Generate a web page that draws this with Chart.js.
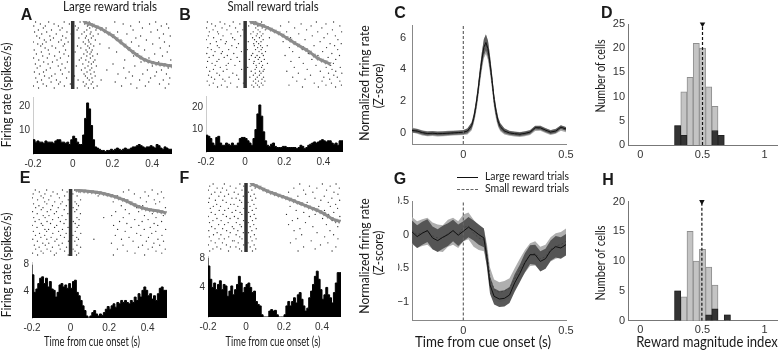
<!DOCTYPE html>
<html lang="en">
<head>
<meta charset="UTF-8">
<title>Reward magnitude coding</title>
<script src="https://cdn.jsdelivr.net/npm/chart.js"></script>
<style>
  body { margin: 0; background: #fff; }
  #fig { position: relative; width: 781px; height: 352px; overflow: hidden; background: #fff; }
  #fig canvas { position: absolute; left: 0; top: 0; }
  .lbl { position: absolute; white-space: nowrap; line-height: 1; font-family: Lato, "Open Sans", sans-serif; color: #1a1a1a; }
  .letter { font-family: "Liberation Sans", Arial, sans-serif; font-weight: bold; }
  .leg { position: absolute; width: 21px; height: 0; }
</style>
</head>
<body>
<div id="fig"></div>
<script>
// ---------- data ----------

// PSTH bins (10 ms, from -0.2 to 0.5 s), spikes/s
var aHist = [5.5,6,5,5.5,5,5,4.5,5.5,5,5, 5,4.5,5.5,6,6,5,5,4.5,5,4,
             6,7.5,6.5,5,4,4,8,15,21.5,19, 12,6,3,2.5,2,1.5,1.5,1,1.5,1.5,
             2,1.5,2,2.5,2,1.5,2,2.5,2,2, 2.5,3,3,3.5,4,3.5,3,2.5,3,3,
             3.5,3,2.5,4,3.5,2.5,2,3,2.5,2];
var bHist = [7,7.5,7,6,4,3,6.5,7,4,3, 3,4,3.5,3,4,3,3,4,6,6.5,
             6.5,6,5,4,3,6,10,17,21,16, 9,5,3,2.5,3.5,4,2.5,2,2,2,
             2.5,2.5,2,2,2,2,2,1.5,2,3, 2.5,1.5,2,3,3.5,4,4.5,4,4.5,5,
             5.5,5,4.5,5,5,4,3.5,4,3,5];
var eHist = [7.9,6.4,3.8,4.3,5.1,5.9,6.1,5.1,5.9,4.6, 5.4,4.3,4.1,3.1,3.8,4.9,5.1,4.6,4.9,4.4,
             5.1,4.4,5.4,5.6,3.8,3.3,2.6,1.8,1.1,0.3, 0,0.3,0.8,1.1,0.6,0.3,0.6,0.4,0.8,1.3,
             1.7,1.3,1.8,2.1,1.6,2.3,2.1,2.6,2.3,2.6, 2.3,2.1,2.6,2.3,3.1,2.6,3.6,3.1,4.1,4.6,
             4.1,3.3,3.6,2.8,3.3,2.6,3.6,4.4,4.6,4.1];
var fHist = [8,6.9,5.1,4,4.6,3.7,4.4,4.9,3.7,4.4, 4.2,2.8,3.5,4.2,3,3.7,4.4,5.5,4.6,3.3,
             4,4.4,4.6,4,3.3,3.5,2.1,1.7,1.5,0.3, 0,0,0,0.8,1,0.8,0.9,0.3,0,0,
             0,0.3,1.5,2.1,1.5,2.1,2.6,1.9,3,3.3, 2.4,1.5,0.8,1.2,2.6,3.5,4.4,5.5,6.2,5.1,
             3.7,2.4,3,4,3,2.6,1.9,3.3,4.6,6];

// raster spike times, one array per trial (top trial first)
var aRows = [
  [-0.187,-0.121,-0.043,0.037,0.083,0.212,0.336,0.418],[-0.163,-0.094,-0.017,0.061,0.097,0.254,0.387,0.473],
  [-0.196,-0.138,-0.072,0.013,0.074,0.109,0.292,0.446],[-0.148,-0.053,0.028,0.086,0.168,0.351,0.483],
  [-0.173,-0.107,-0.064,0.022,0.071,0.117,0.304,0.427],[-0.192,-0.131,-0.029,0.058,0.092,0.226,0.394],
  [-0.156,-0.083,-0.008,0.046,0.088,0.128,0.273,0.457],[-0.181,-0.115,-0.051,0.069,0.103,0.342,0.491],
  [-0.167,-0.097,-0.034,0.031,0.064,0.094,0.318,0.436],[-0.143,-0.112,-0.058,0.079,0.114,0.243,0.371],
  [-0.199,-0.134,-0.071,-0.023,0.053,0.082,0.296,0.462],[-0.176,-0.152,-0.041,0.063,0.091,0.137,0.403],
  [-0.161,-0.104,-0.048,0.024,0.076,0.106,0.333,0.487],[-0.139,-0.086,0.041,0.084,0.183,0.441],
  [-0.194,-0.123,-0.036,0.067,0.098,0.362],[-0.158,-0.067,0.012,0.073,0.093,0.221,0.476],
  [-0.183,-0.118,-0.044,0.056,0.087,0.124,0.413],[-0.151,-0.091,-0.021,0.071,0.101,0.307,0.452],
  [-0.197,-0.128,-0.062,0.043,0.089,0.384],[-0.171,-0.079,0.033,0.066,0.112,0.262,0.494],
  [-0.146,-0.102,-0.027,0.081,0.104,0.344,0.433],[-0.188,-0.124,-0.054,0.051,0.094,0.203,0.464],
  [-0.164,-0.073,0.018,0.077,0.119,0.313,0.401],[-0.179,-0.113,-0.038,0.062,0.096,0.257,0.481],
  [-0.133,-0.061,0.044,0.087,0.172,0.376,0.447],[-0.193,-0.147,-0.019,0.072,0.108,0.284,0.422],
  [-0.168,-0.089,-0.052,0.057,0.091,0.228,0.353,0.472],[-0.142,-0.106,0.009,0.064,0.113,0.301,0.414],
  [-0.186,-0.119,-0.031,0.074,0.097,0.267,0.392,0.489],[-0.157,-0.082,0.027,0.083,0.143,0.337,0.456],
  [-0.178,-0.109,-0.063,0.053,0.101,0.214,0.383],[-0.149,-0.071,-0.012,0.068,0.093,0.293,0.437,0.484],
  [-0.198,-0.132,-0.042,0.061,0.123,0.246,0.366],[-0.172,-0.093,0.023,0.079,0.105,0.323,0.466]
];
var bRows = [
  [-0.193,-0.128,-0.061,0.052,0.084,0.223,0.364,0.452],[-0.171,-0.104,-0.027,0.043,0.071,0.286,0.413],
  [-0.152,-0.079,0.018,0.063,0.094,0.181,0.337,0.484],[-0.197,-0.118,-0.049,0.054,0.087,0.253,0.392],
  [-0.164,-0.093,-0.012,0.066,0.103,0.314,0.446],[-0.183,-0.141,-0.038,0.041,0.076,0.212,0.371,0.493],
  [-0.136,-0.072,0.029,0.062,0.091,0.274,0.421],[-0.188,-0.113,-0.023,0.057,0.083,0.343,0.461],
  [-0.161,-0.064,0.038,0.073,0.124,0.232,0.403],[-0.199,-0.124,-0.053,0.048,0.092,0.306,0.474],
  [-0.147,-0.096,0.016,0.058,0.081,0.194,0.383],[-0.178,-0.101,-0.034,0.044,0.069,0.263,0.434,0.491],
  [-0.142,-0.068,0.047,0.079,0.113,0.352,0.457],[-0.191,-0.133,-0.044,0.064,0.088,0.226,0.416],
  [-0.173,-0.084,0.011,0.053,0.082,0.294,0.473],[-0.154,-0.116,-0.019,0.071,0.104,0.243,0.396],
  [-0.196,-0.122,-0.058,0.039,0.086,0.323,0.443],[-0.163,-0.091,0.032,0.061,0.093,0.204,0.372,0.482],
  [-0.184,-0.107,-0.041,0.052,0.074,0.276,0.424],[-0.134,-0.073,0.021,0.067,0.098,0.341,0.463],
  [-0.192,-0.144,-0.028,0.046,0.083,0.234,0.407],[-0.169,-0.086,0.043,0.072,0.114,0.297,0.451],
  [-0.153,-0.097,-0.052,0.056,0.089,0.362,0.437],[-0.198,-0.127,0.013,0.058,0.084,0.251,0.414,0.486],
  [-0.162,-0.093,-0.018,0.051,0.097,0.317,0.444],[-0.181,-0.112,0.031,0.074,0.092,0.213,0.384,0.463],
  [-0.144,-0.063,0.052,0.081,0.272,0.426,0.494],[-0.187,-0.131,-0.043,0.042,0.073,0.334,0.453],
  [-0.172,-0.082,0.024,0.062,0.094,0.243,0.402,0.471],[-0.156,-0.114,-0.033,0.053,0.086,0.306,0.432],
  [-0.194,-0.103,0.042,0.068,0.101,0.264,0.393,0.484],[-0.163,-0.074,-0.009,0.054,0.083,0.353,0.441],
  [-0.183,-0.121,0.034,0.063,0.091,0.224,0.413,0.492],[-0.141,-0.092,-0.041,0.044,0.072,0.293,0.374,0.462]
];
var eRows = [
  [-0.183,-0.124,-0.042,0.021,0.302,0.423],[-0.162,-0.091,-0.018,0.043,0.274,0.386,0.471],
  [-0.194,-0.133,-0.069,0.012,0.331,0.452],[-0.153,-0.102,-0.031,0.034,0.143,0.244,0.404],
  [-0.198,-0.141,-0.058,0.004,0.362,0.483],[-0.171,-0.113,-0.012,0.052,0.293,0.434],
  [-0.134,-0.082,-0.043,0.023,0.221,0.393,0.462],[-0.192,-0.123,-0.051,0.031,0.313,0.441],
  [-0.164,-0.094,-0.022,0.041,0.263,0.374],[-0.181,-0.143,-0.064,0.013,0.342,0.492],
  [-0.152,-0.103,-0.033,0.032,0.284,0.412],[-0.197,-0.121,-0.073,0.022,0.234,0.353,0.463],
  [-0.173,-0.084,-0.014,0.051,0.304,0.424],[-0.142,-0.112,-0.044,0.002,0.213,0.383,0.481],
  [-0.191,-0.132,-0.063,0.033,0.172,0.273,0.443],[-0.163,-0.093,-0.024,0.044,0.333,0.402],
  [-0.184,-0.122,-0.053,0.014,0.254,0.371,0.472],[-0.152,-0.104,-0.034,0.024,0.292,0.433],
  [-0.199,-0.144,-0.072,0.043,0.223,0.354,0.452],[-0.174,-0.083,-0.013,0.034,0.314,0.413],
  [-0.133,-0.114,-0.042,0.003,0.244,0.382,0.493],[-0.193,-0.124,-0.062,0.024,0.283,0.442],
  [-0.161,-0.092,-0.023,0.053,0.343,0.421],[-0.182,-0.134,-0.052,0.012,0.232,0.364,0.474],
  [-0.154,-0.101,-0.032,0.032,0.303,0.404],[-0.196,-0.123,-0.071,0.041,0.121,0.264,0.453],
  [-0.172,-0.081,-0.011,0.022,0.324,0.393,0.482],[-0.144,-0.113,-0.043,0.004,0.212,0.432],
  [-0.188,-0.131,-0.061,0.033,0.272,0.373,0.462],[-0.163,-0.094,-0.021,0.052,0.352,0.424],
  [-0.181,-0.122,-0.054,0.013,0.243,0.402,0.491],[-0.153,-0.103,-0.031,0.023,0.294,0.443],
  [-0.197,-0.142,-0.074,0.042,0.334,0.473],[-0.171,-0.084,-0.012,0.031,0.222,0.384]
];
var fRows = [
  [-0.173,-0.114,-0.032,0.041,0.283,0.402,0.474],[-0.191,-0.083,-0.012,0.022,0.334,0.443],
  [-0.152,-0.124,-0.053,0.048,0.252,0.373,0.491],[-0.198,-0.102,-0.021,0.031,0.303,0.424],
  [-0.164,-0.133,-0.062,0.013,0.224,0.352,0.463],[-0.182,-0.092,-0.041,0.043,0.314,0.484],
  [-0.143,-0.113,-0.014,0.024,0.273,0.412],[-0.193,-0.074,-0.052,0.051,0.363,0.452],
  [-0.161,-0.122,-0.033,0.032,0.243,0.394,0.493],[-0.197,-0.104,-0.023,0.011,0.322,0.433],
  [-0.154,-0.081,-0.063,0.042,0.284,0.472],[-0.172,-0.134,-0.043,0.021,0.232,0.383,0.444],
  [-0.188,-0.093,-0.011,0.053,0.343,0.482],[-0.141,-0.112,-0.054,0.033,0.264,0.413],
  [-0.183,-0.073,-0.031,0.014,0.304,0.462],[-0.162,-0.121,-0.022,0.043,0.213,0.364,0.433],
  [-0.199,-0.103,-0.061,0.023,0.333,0.494],[-0.153,-0.084,-0.042,0.052,0.272,0.403],
  [-0.174,-0.131,-0.013,0.034,0.244,0.454],[-0.192,-0.094,-0.051,0.012,0.313,0.472],
  [-0.144,-0.113,-0.032,0.041,0.224,0.423],[-0.181,-0.072,-0.024,0.022,0.352,0.483],
  [-0.163,-0.123,-0.064,0.054,0.284],[-0.196,-0.102,-0.043,0.031,0.253,0.442],
  [-0.152,-0.083,-0.014,0.013,0.374],[-0.171,-0.132,-0.052,0.044,0.293,0.461],
  [-0.193,-0.091,-0.033,0.024,0.414],[-0.142,-0.114,-0.021,0.053,0.263,0.484],
  [-0.184,-0.071,-0.062,0.032,0.343],[-0.162,-0.124,-0.041,0.011,0.234,0.431],
  [-0.198,-0.103,-0.012,0.043,0.392],[-0.153,-0.082,-0.053,0.022,0.303,0.473],
  [-0.174,-0.133,-0.034,0.051,0.364],[-0.191,-0.092,-0.023,0.034,0.274,0.453]
];

// reward-time markers [time, trial]
var aMarks = [[0.06,0],[0.08,0.8],[0.1,1.6],[0.12,2.4],[0.14,3.2],[0.16,4.4],[0.18,5.6],[0.2,6.8],
  [0.22,8.4],[0.24,10],[0.26,11.6],[0.28,13.2],[0.3,14.8],[0.32,16.2],[0.34,17.6],[0.36,18.8],
  [0.38,19.6],[0.4,20.2],[0.42,20.7],[0.44,21.1],[0.46,21.4],[0.48,21.7],[0.5,22]];
var bMarks = [[0.03,0],[0.05,0.5],[0.07,1.2],[0.09,1.9],[0.11,2.7],[0.13,3.6],[0.15,4.6],[0.17,5.6],
  [0.19,6.7],[0.21,8],[0.23,9.2],[0.25,10.5],[0.27,11.7],[0.29,12.9],[0.31,14],[0.33,15.3],
  [0.35,16.8],[0.37,18.4],[0.39,19.4],[0.41,20.3],[0.43,21.1]];
var eMarks = [[0.03,0],[0.05,0.3],[0.07,0.5],[0.09,0.7],[0.11,0.9],[0.13,1.1],[0.15,1.4],[0.17,1.8],
  [0.19,2.3],[0.21,2.8],[0.23,3.4],[0.25,4.1],[0.27,4.8],[0.29,5.6],[0.31,6.5],[0.33,7.5],
  [0.35,8.3],[0.37,9.1],[0.39,9.6],[0.41,10],[0.43,10.3],[0.45,10.6],[0.47,11],[0.49,11.5]];
var fMarks = [[0.03,0],[0.05,0.8],[0.07,1.6],[0.09,2.5],[0.11,3.4],[0.13,4.1],[0.15,4.8],[0.17,5.5],
  [0.19,6.1],[0.21,6.8],[0.23,7.5],[0.25,8.2],[0.27,9],[0.29,9.7],[0.31,10.5],[0.33,11.3],
  [0.35,12],[0.37,12.8],[0.39,13.6],[0.41,14.6],[0.43,15.8],[0.45,17],[0.47,17.8],[0.49,18.3]];

// population z-scores (C: excited cells, G: inhibited cells)
var cTime  = [-0.25,-0.225,-0.2,-0.175,-0.15,-0.125,-0.1,-0.075,-0.05,-0.025,0,0.02,0.04,0.05,0.06,0.07,0.08,0.09,0.1,0.11,
              0.12,0.13,0.14,0.15,0.16,0.17,0.18,0.2,0.225,0.25,0.275,0.3,0.325,0.35,0.375,0.4,0.425,0.45,0.475,0.5];
var cLarge = [0.15,0.12,0.02,-0.04,-0.02,-0.05,-0.04,-0.02,0,0.02,0.04,0.12,0.45,0.9,1.6,2.5,3.6,4.6,5.4,5.7,
              5.3,4.4,3.3,2.1,1.3,0.7,0.4,0.12,0,-0.05,-0.08,-0.03,0.05,0.33,0.32,0.18,0.05,0.12,0.36,0.25];
var cSmall = [0.18,0.1,0,-0.05,-0.04,-0.06,-0.05,-0.03,-0.01,0.01,0.03,0.1,0.4,0.85,1.5,2.4,3.5,4.5,5.3,5.6,
              5.2,4.3,3.2,2,1.2,0.65,0.35,0.1,-0.02,-0.07,-0.1,-0.05,0.03,0.28,0.3,0.15,0.02,0.1,0.3,0.2];
var cErrLarge = [0.12,0.12,0.12,0.12,0.12,0.12,0.12,0.12,0.12,0.12,0.12,0.15,0.2,0.25,0.3,0.35,0.4,0.45,0.5,0.5,
              0.5,0.45,0.4,0.35,0.3,0.25,0.2,0.15,0.12,0.12,0.12,0.12,0.12,0.12,0.12,0.12,0.12,0.12,0.12,0.12];
var cErrSmall = [0.16,0.16,0.16,0.16,0.16,0.16,0.16,0.16,0.16,0.16,0.16,0.2,0.25,0.3,0.38,0.45,0.5,0.55,0.6,0.62,
              0.6,0.55,0.5,0.45,0.38,0.3,0.25,0.2,0.16,0.16,0.16,0.16,0.16,0.16,0.16,0.16,0.16,0.16,0.16,0.16];

var gTime  = [-0.25,-0.225,-0.2,-0.175,-0.15,-0.125,-0.1,-0.075,-0.05,-0.025,0,0.025,0.05,0.075,0.1,0.115,
              0.13,0.15,0.175,0.2,0.225,0.25,0.275,0.3,0.325,0.35,0.375,0.4,0.425,0.45,0.475,0.5];
var gLarge = [0.04,-0.03,0.02,0.06,-0.05,-0.09,-0.04,0,0.06,-0.01,0.05,0.11,0.06,0,-0.05,-0.35,
              -0.75,-0.92,-0.96,-0.95,-0.9,-0.72,-0.58,-0.42,-0.3,-0.3,-0.4,-0.36,-0.24,-0.18,-0.2,-0.15];
var gSmall = [0.06,0,0.03,0.05,-0.02,-0.05,-0.06,0.02,0.05,0,0.1,0.13,0.02,-0.05,-0.08,-0.3,
              -0.65,-0.82,-0.86,-0.84,-0.8,-0.66,-0.52,-0.4,-0.3,-0.28,-0.36,-0.33,-0.22,-0.17,-0.15,-0.1];
var gErrLarge = [0.17,0.17,0.17,0.17,0.17,0.17,0.17,0.17,0.16,0.16,0.15,0.15,0.15,0.15,0.14,0.14,
              0.13,0.12,0.12,0.12,0.12,0.13,0.13,0.14,0.14,0.15,0.15,0.15,0.15,0.16,0.16,0.16];
var gErrSmall = [0.2,0.2,0.2,0.2,0.2,0.2,0.2,0.2,0.2,0.2,0.2,0.2,0.2,0.18,0.17,0.16,
              0.16,0.15,0.15,0.15,0.15,0.16,0.16,0.17,0.17,0.18,0.18,0.18,0.18,0.19,0.19,0.19];

// reward magnitude index histograms: all cells (gray) and significant cells (black)
var dBins = [0.3,0.35,0.4,0.45,0.5,0.55,0.6,0.65];
var dAll  = [4,11,14,21,20,12,8,2];
var dSig  = [4,2,0,0,0,0,3,2];
var dMedian = 0.5;
var hBins = [0.3,0.35,0.4,0.45,0.5,0.55,0.6,0.65,0.7];
var hAll  = [5,4,15,10,12,9,6,0,1];
var hSig  = [5,0,0,0,0,1,2,0,1];
var hMedian = 0.495;

var psthTicks = [-0.2, 0, 0.2, 0.4];
var binWidth = 0.01;

// ---------- helpers ----------
var W = 781, H = 352;
var fig = document.getElementById('fig');
Chart.defaults.font.family = '"Liberation Sans", Arial, sans-serif';

// box = [left, top, right, bottom] of the plot area in page pixels
function makeChart(box, yW, xH, cfg) {
    var cv = document.createElement('canvas');
    cv.width = W; cv.height = H;
    fig.appendChild(cv);
    cfg.options = Object.assign({
        responsive: false,
        animation: false,
        devicePixelRatio: 1,
        layout: { padding: { left: box[0] - yW, top: box[1], right: W - box[2], bottom: H - box[3] - xH } },
        plugins: { legend: { display: false }, tooltip: { enabled: false } }
    }, cfg.options);
    return new Chart(cv, cfg);
}

function axis(pos, min, max, ticks, size, o) {
    o = o || {};
    return {
        type: 'linear', position: pos, min: min, max: max, offset: false,
        grid: { display: false, drawTicks: false },
        border: { display: o.line !== false, color: o.lineColor || '#888', width: 1 },
        ticks: {
            font: { size: o.font || 11 }, color: '#333', padding: o.pad == null ? 3 : o.pad,
            autoSkip: false, maxRotation: 0,
            callback: function (v) { return o.minus ? String(v).replace('-', '\u2212') : String(v); }
        },
        afterBuildTicks: function (s) { s.ticks = ticks.map(function (v) { return { value: v }; }); },
        afterFit: function (s) { if (pos === 'bottom') s.height = size; else s.width = size; }
    };
}

function hidden(min, max, rev) {
    return { type: 'linear', display: false, min: min, max: max, reverse: !!rev };
}

function rasterChart(box, rows, marks) {
    var dots = [];
    rows.forEach(function (r, i) { r.forEach(function (t) { dots.push({ x: t, y: i }); }); });
    var n = rows.length;
    makeChart(box, 0, 0, {
        type: 'scatter',
        data: { datasets: [
            { data: marks.map(function (m) { return { x: m[0], y: m[1] }; }), showLine: true,
              borderColor: '#8c8c8c', borderWidth: 3,
              pointStyle: 'triangle', pointRotation: 180, pointRadius: 2.8,
              pointBackgroundColor: '#8c8c8c', pointBorderColor: '#8c8c8c', pointBorderWidth: 0 },
            { type: 'line', data: [{ x: 0, y: -0.5 }, { x: 0, y: n - 0.5 }],
              borderColor: '#333', borderWidth: 3.5, pointRadius: 0 },
            { data: dots, pointRadius: 0.65, pointBackgroundColor: '#2a2a2a', pointBorderWidth: 0 }
        ] },
        options: { scales: { x: hidden(-0.2, 0.5), y: hidden(-0.5, n - 0.5, true) } }
    });
}

function histChart(box, vals, yMax, yTicks) {
    var pts = vals.map(function (v, i) { return { x: -0.2 + i * binWidth, y: v }; });
    pts.push({ x: 0.5, y: vals[vals.length - 1] });
    makeChart(box, 20, 16, {
        type: 'line',
        data: { datasets: [{ data: pts, stepped: 'after', fill: 'origin', backgroundColor: '#000',
                              borderColor: '#000', borderWidth: 1, pointRadius: 0 }] },
        options: { scales: {
            x: axis('bottom', -0.2, 0.5, psthTicks, 16, { font: 10, pad: 4, line: false }),
            y: axis('left', 0, yMax, yTicks, 20, { font: 10, pad: 3, lineColor: '#ccc' })
        } }
    });
}

function bandPts(t, m, e, s) { return t.map(function (x, i) { return { x: x, y: m[i] + s * e[i] }; }); }
function linePts(t, m) { return t.map(function (x, i) { return { x: x, y: m[i] }; }); }

function popChart(box, t, large, small, errL, errS, yMin, yMax, yTicks, dark, light, opts) {
    makeChart(box, 14, 16, {
        type: 'line',
        data: { datasets: [
            { data: [{ x: 0, y: yMin }, { x: 0, y: yMax }], borderColor: '#666', borderWidth: 1.2,
              borderDash: [3, 2], pointRadius: 0 },
            { data: linePts(t, large), borderColor: '#111', borderWidth: 1, pointRadius: 0 },
            { data: linePts(t, small), borderColor: '#444', borderWidth: 1, borderDash: [2, 2], pointRadius: 0 },
            { data: bandPts(t, large, errL, 1), fill: '+1', backgroundColor: dark, borderWidth: 0, pointRadius: 0 },
            { data: bandPts(t, large, errL, -1), fill: false, borderWidth: 0, pointRadius: 0 },
            { data: bandPts(t, small, errS, 1), fill: '+1', backgroundColor: light, borderWidth: 0, pointRadius: 0 },
            { data: bandPts(t, small, errS, -1), fill: false, borderWidth: 0, pointRadius: 0 }
        ] },
        options: { scales: {
            x: axis('bottom', -0.25, 0.5, [0, 0.5], 16, { pad: 4 }),
            y: axis('left', yMin, yMax, yTicks, 14, opts)
        } }
    });
}

function indexChart(box, bins, all, sig, median, yMax, yTicks) {
    makeChart(box, 16, 16, {
        type: 'bar',
        data: { datasets: [
            { type: 'scatter', data: [{ x: median, y: yMax }], pointStyle: 'triangle', pointRotation: 180,
              pointRadius: 3.2, pointBackgroundColor: '#111', pointBorderWidth: 0, clip: false },
            { type: 'line', data: [{ x: median, y: 0 }, { x: median, y: yMax }], borderColor: '#111',
              borderWidth: 1.2, borderDash: [3, 2], pointRadius: 0 },
            { data: bins.map(function (b, i) { return { x: b, y: sig[i] }; }), backgroundColor: '#333',
              borderColor: '#222', borderWidth: 1, grouped: false, barPercentage: 1, categoryPercentage: 1 },
            { data: bins.map(function (b, i) { return { x: b, y: all[i] }; }), backgroundColor: '#c4c4c4',
              borderColor: '#8f8f8f', borderWidth: 1, grouped: false, barPercentage: 1, categoryPercentage: 1 }
        ] },
        options: { scales: {
            x: axis('bottom', -0.1, 1.1, [0, 0.5, 1], 16, { pad: 3, lineColor: '#777' }),
            y: axis('left', 0, yMax, yTicks, 16, { pad: 3, lineColor: '#777' })
        } }
    });
}

// text centred on (cx, cy) at a given size, squeezed along its run to the measured width
function addText(str, cx, cy, size, width, opts) {
    opts = opts || {};
    var el = document.createElement('div');
    el.className = 'lbl' + (opts.cls ? ' ' + opts.cls : '');
    el.textContent = str;
    el.style.fontSize = size + 'px';
    fig.appendChild(el);
    var k = width ? width / el.offsetWidth : 1;
    el.style.left = cx + 'px';
    el.style.top = cy + 'px';
    el.style.transform = 'translate(-50%,-50%)' + (opts.rot ? ' rotate(-90deg)' : '') + ' scale(' + k + ',1)';
    return el;
}

function legendLine(x, y, style) {
    var el = document.createElement('div');
    el.className = 'leg';
    el.style.left = x + 'px';
    el.style.top = y + 'px';
    el.style.borderTop = style;
    fig.appendChild(el);
}

// ---------- panels ----------
rasterChart([33, 21, 172, 89], aRows, aMarks);
histChart([33, 97, 172, 154], aHist, 24, [10, 20]);
rasterChart([206, 21, 343, 88], bRows, bMarks);
histChart([206, 96, 343, 152], bHist, 25, [10, 20]);
rasterChart([32, 189, 167, 256], eRows, eMarks);
histChart([32, 262, 167, 318], eHist, 8.3, [4, 8]);
rasterChart([208, 183, 341, 252], fRows, fMarks);
histChart([208, 256, 341, 317], fHist, 8.25, [4, 8]);

popChart([412, 25, 566, 144], cTime, cLarge, cSmall, cErrLarge, cErrSmall, -0.7, 6.8, [0, 2, 4, 6],
         'rgba(85,85,85,0.9)', 'rgba(160,160,160,0.9)', { pad: 6 });
popChart([412, 201, 566, 320.5], gTime, gLarge, gSmall, gErrLarge, gErrSmall, -1.28, 0.5, [-1, -0.5, 0, 0.5],
         'rgba(80,80,80,0.95)', 'rgba(175,175,175,1)', { pad: 3, minus: true });

indexChart([628, 24, 780.5, 145], dBins, dAll, dSig, dMedian, 25, [0, 5, 10, 15, 20, 25]);
indexChart([628, 201.7, 780.5, 320.7], hBins, hAll, hSig, hMedian, 20, [0, 5, 10, 15, 20]);

// ---------- text ----------
addText('Large reward trials', 110, 7, 12.5, 94);
addText('Small reward trials', 272.5, 7, 12.5, 91);
addText('Firing rate (spikes/s)', 6, 95, 13, 105, { rot: true });
addText('Firing rate (spikes/s)', 6, 265, 13, 105, { rot: true });
addText('Normalized firing rate', 365, 83, 13.5, 115, { rot: true });
addText('(Z-score)', 379, 86, 13.5, 45, { rot: true });
addText('Normalized firing rate', 365, 256, 13.5, 115, { rot: true });
addText('(Z-score)', 379, 253, 13.5, 45, { rot: true });
addText('Number of cells', 600, 76, 13, 73, { rot: true });
addText('Number of cells', 600, 262.5, 13, 75, { rot: true });
addText('Time from cue onset (s)', 91.5, 341, 13, 96);
addText('Time from cue onset (s)', 273, 341, 13, 95);
addText('Time from cue onset (s)', 482.5, 341, 15, 136);
addText('Reward magnitude index', 707, 341, 15, 141);

legendLine(457, 177, '1.5px solid #111');
legendLine(457, 189, '1.5px dashed #666');
addText('Large reward trials', 527, 176, 12, 84);
addText('Small reward trials', 527, 188, 12, 84);

var letters = [['A', 26.5, 15], ['B', 185, 15], ['C', 400, 13], ['D', 606.7, 13],
               ['E', 25, 178], ['F', 184.5, 178], ['G', 400, 179], ['H', 608, 180]];
letters.forEach(function (l) { addText(l[0], l[1], l[2], 16, 0, { cls: 'letter' }); });
</script>
</body>
</html>
